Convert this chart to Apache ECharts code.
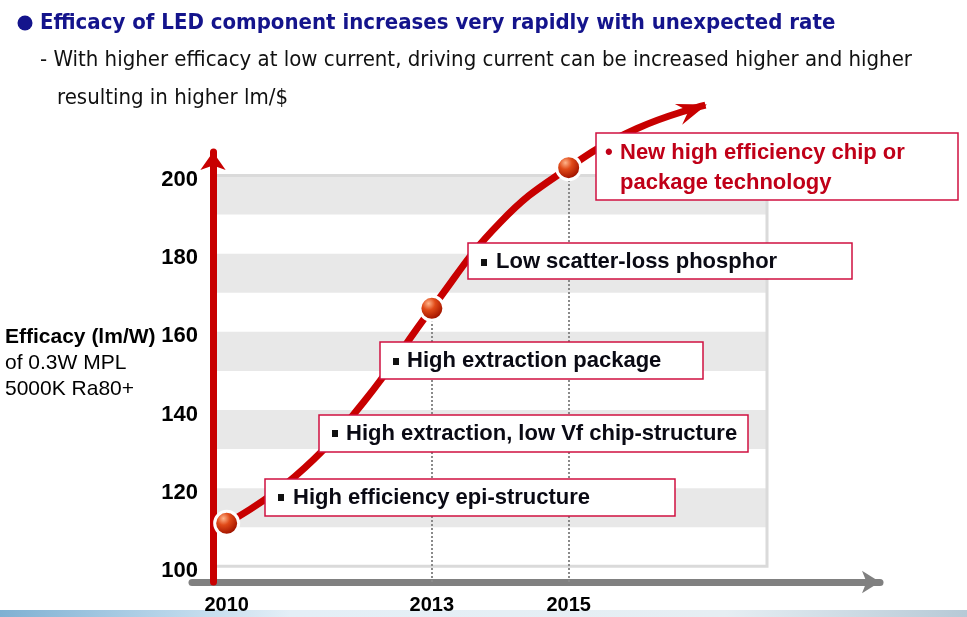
<!DOCTYPE html>
<html>
<head>
<meta charset="utf-8">
<script src="https://cdn.jsdelivr.net/npm/echarts@6/dist/echarts.min.js"></script>
<style>
html,body{margin:0;padding:0;background:#fff;}
#chart{width:967px;height:617px;}
</style>
</head>
<body>
<div id="chart"></div>
<script>
// ---- data ----
const years = [2010, 2011, 2012, 2013, 2014, 2015, 2016, 2017];
const efficacy = [111, 123, 142, 166, 188, 202, 212, 218];
const milestoneYears = [2010, 2013, 2015];
const guideYears = [2013, 2015];
const yTickLabels = [100, 120, 140, 160, 180, 200];
const xTickLabels = [2010, 2013, 2015];
const titleText = 'Efficacy of LED component increases very rapidly with unexpected rate';
const subLine1 = '- With higher efficacy at low current, driving current can be increased higher and higher';
const subLine2 = 'resulting in higher lm/$';
const yTitleLines = ['Efficacy (lm/W)', 'of 0.3W MPL', '5000K Ra80+'];
const notes = [
  'High efficiency epi-structure',
  'High extraction, low Vf chip-structure',
  'High extraction package',
  'Low scatter-loss phosphor'
];
const futureNote = ['New high efficiency chip or', 'package technology'];

// ---- chart ----
const chart = echarts.init(document.getElementById('chart'), null, {renderer: 'canvas'});
const FONT = "'Liberation Sans', Arial, sans-serif";
const TITLE_FONT = "'Liberation Sans Narrow', 'DejaVu Sans Condensed', 'Liberation Sans', sans-serif";
const RED = '#c80000';
const BOX_RED = '#cf1040';

const ballColor = {
  type: 'radial', x: 0.38, y: 0.32, r: 0.7,
  colorStops: [
    {offset: 0, color: '#ffb48a'},
    {offset: 0.35, color: '#e04a18'},
    {offset: 0.8, color: '#a81800'},
    {offset: 1, color: '#700a00'}
  ]
};

// arrow head pointing up-right (~19 deg), tip at right edge of its box
const ARROW_PATH = 'path://M32,0.6L0,0L13.5,7L7.2,20.8Z';
const lastIdx = years.length - 1;
const lineData = years.map((yr, i) => {
  const item = {value: [yr, efficacy[i]]};
  if (milestoneYears.includes(yr)) {
    item.symbol = 'circle';
    item.symbolSize = 24;
    item.itemStyle = {color: ballColor, borderColor: '#ffffff', borderWidth: 3};
  } else if (i === lastIdx) {
    item.symbol = ARROW_PATH;
    item.symbolSize = [32, 20.8];
    item.symbolKeepAspect = false;
    item.symbolOffset = [-14.5, 9.3];
    item.itemStyle = {color: RED, borderWidth: 0};
  } else {
    item.symbol = 'none';
  }
  return item;
});

// bands every other 10-unit slot between labelled ticks
const bands = [];
for (let i = 0; i < yTickLabels.length - 1; i++) {
  bands.push([{yAxis: yTickLabels[i] + 10}, {yAxis: yTickLabels[i + 1]}]);
}
const frame = [[{yAxis: yTickLabels[0]}, {yAxis: yTickLabels[yTickLabels.length - 1]}]];

const guideLines = guideYears.map(yr => {
  const v = efficacy[years.indexOf(yr)];
  return [{coord: [yr, 96]}, {coord: [yr, v]}];
});

function box(x, y, w, h) {
  return {type: 'rect', z: 100, shape: {x: x, y: y, width: w, height: h},
    style: {fill: '#ffffff', stroke: BOX_RED, lineWidth: 1.5}};
}
function bullet(x, y) {
  return {type: 'rect', z: 101, shape: {x: x, y: y, width: 6, height: 7}, style: {fill: '#111'}};
}
function label(x, y, text, color) {
  return {type: 'text', z: 101, x: x, y: y,
    style: {text: text, fill: color || '#0a0a14', font: 'bold 22px ' + FONT, verticalAlign: 'middle'}};
}

const graphics = [
  // bottom strip
  {type: 'rect', z: 0, shape: {x: 0, y: 610, width: 967, height: 7},
    style: {fill: {type: 'linear', x: 0, y: 0, x2: 1, y2: 0, colorStops: [
      {offset: 0, color: '#7fb0d2'}, {offset: 0.18, color: '#b9d6ea'}, {offset: 0.3, color: '#e4eff7'},
      {offset: 0.75, color: '#e6eef3'}, {offset: 1, color: '#b6c9d6'}]}}},
  // title
  {type: 'circle', z: 100, shape: {cx: 25, cy: 23, r: 7.5}, style: {fill: '#14148c'}},
  {type: 'text', z: 100, x: 40, y: 23, style: {text: titleText, fill: '#14148c',
    font: 'bold 22px ' + TITLE_FONT, verticalAlign: 'middle'}},
  {type: 'text', z: 100, x: 40, y: 60, style: {text: subLine1, fill: '#111',
    font: '22px ' + TITLE_FONT, verticalAlign: 'middle'}},
  {type: 'text', z: 100, x: 57, y: 98, style: {text: subLine2, fill: '#111',
    font: '22px ' + TITLE_FONT, verticalAlign: 'middle'}},
  // y-axis title
  {type: 'text', z: 100, x: 5, y: 337, style: {text: yTitleLines[0], fill: '#000', font: 'bold 21px ' + FONT, verticalAlign: 'middle'}},
  {type: 'text', z: 100, x: 5, y: 363, style: {text: yTitleLines[1], fill: '#000', font: '21px ' + FONT, verticalAlign: 'middle'}},
  {type: 'text', z: 100, x: 5, y: 389, style: {text: yTitleLines[2], fill: '#000', font: '21px ' + FONT, verticalAlign: 'middle'}},
  // annotation boxes
  box(265, 479, 410, 37), bullet(278, 494), label(293, 498, notes[0]),
  box(319, 415, 429, 37), bullet(332, 430), label(346, 434, notes[1]),
  box(380, 342, 323, 37), bullet(393, 358), label(407, 361, notes[2]),
  box(468, 243, 384, 36), bullet(481, 259), label(496, 262, notes[3]),
  box(596, 133, 362, 67),
  label(605, 153, '\u2022', '#c00018'),
  label(620, 153, futureNote[0], '#c00018'),
  label(620, 183, futureNote[1], '#c00018')
];

const option = {
  animation: false,
  backgroundColor: '#ffffff',
  grid: [
    {left: 213, right: 200, top: 152, bottom: 35},
    {left: 192, right: 87, top: 152, bottom: 35}
  ],
  xAxis: [
    {
      gridIndex: 0, type: 'value', min: 2009.8, max: 2017.9, interval: 0.2,
      axisLine: {show: false}, axisTick: {show: false}, splitLine: {show: false},
      axisLabel: {
        interval: 0, margin: 13, color: '#000', fontSize: 20, fontWeight: 'bold', fontFamily: FONT,
        showMinLabel: true, showMaxLabel: true,
        formatter: v => {
          const r = Math.round(v);
          return (Math.abs(v - r) < 1e-6 && xTickLabels.includes(r)) ? String(r) : '';
        }
      }
    },
    {
      gridIndex: 1, type: 'value', min: 0, max: 1, z: 1,
      axisLine: {show: true, lineStyle: {color: '#808080', width: 7}, symbol: ['none', 'arrow'], symbolSize: [17, 18]},
      axisTick: {show: false}, axisLabel: {show: false}, splitLine: {show: false}
    }
  ],
  yAxis: [
    {
      gridIndex: 0, type: 'value', min: 96, max: 206, interval: 4, z: 3,
      axisLine: {show: true, lineStyle: {color: RED, width: 7}, symbol: ['none', 'arrow'], symbolSize: [19, 18]},
      axisTick: {show: false}, splitLine: {show: false},
      axisLabel: {
        margin: 15, color: '#000', fontSize: 22, fontWeight: 'bold', fontFamily: FONT,
        verticalAlign: 'top', lineHeight: 9,
        formatter: v => yTickLabels.includes(v) ? String(v) : ''
      }
    },
    {gridIndex: 1, type: 'value', show: false, min: 0, max: 1}
  ],
  series: [
    {
      type: 'line', xAxisIndex: 0, yAxisIndex: 0, data: [], z: 1, silent: true,
      markArea: {
        silent: true,
        data: bands,
        itemStyle: {color: '#e8e8e8'}
      }
    },
    {
      type: 'line', xAxisIndex: 0, yAxisIndex: 0, data: [], z: 1, silent: true,
      markArea: {
        silent: true,
        data: frame,
        itemStyle: {color: 'rgba(0,0,0,0)', borderColor: '#dadada', borderWidth: 3}
      },
      markLine: {
        silent: true, symbol: ['none', 'none'],
        label: {show: false},
        lineStyle: {color: '#8a8a8a', type: 'dotted', width: 2},
        data: guideLines
      }
    },
    {
      type: 'line', xAxisIndex: 0, yAxisIndex: 0, z: 5, clip: false,
      smooth: 0.45,
      data: lineData,
      lineStyle: {color: RED, width: 7},
      itemStyle: {color: RED}
    }
  ],
  graphic: graphics
};
chart.setOption(option);
</script>
</body>
</html>
